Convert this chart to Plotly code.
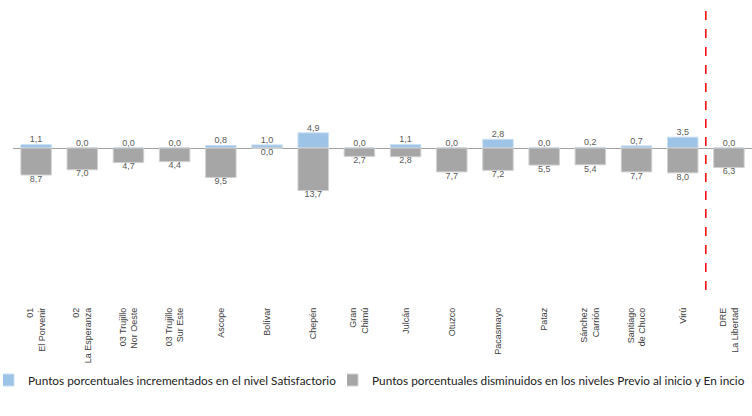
import plotly.graph_objects as go

categories = ["01<br>El Porvenir", "02<br>La Esperanza", "03 Trujillo<br>Nor Oeste",
              "03 Trujillo<br>Sur Este", "Ascope", "Bolívar", "Chepén", "Gran<br>Chimú",
              "Julcán", "Otuzco", "Pacasmayo", "Pataz", "Sánchez<br>Carrión",
              "Santiago<br>de Chuco", "Virú", "DRE<br>La Libertad"]
increased = [1.1, 0.0, 0.0, 0.0, 0.8, 1.0, 4.9, 0.0, 1.1, 0.0, 2.8, 0.0, 0.2, 0.7, 3.5, 0.0]
decreased = [8.7, 7.0, 4.7, 4.4, 9.5, 0.0, 13.7, 2.7, 2.8, 7.7, 7.2, 5.5, 5.4, 7.7, 8.0, 6.3]

name_inc = "Puntos porcentuales incrementados en el nivel Satisfactorio"
name_dec = "Puntos porcentuales disminuidos en los niveles Previo al inicio y En incio"

blue = "#9DC3E6"
gray = "#A6A6A6"
label_color = "#595959"
neg_dec = [-v for v in decreased]

fig = go.Figure()
fig.add_trace(go.Bar(x=categories, y=increased, name=name_inc, legend="legend",
                     marker=dict(color=blue, line=dict(color="#C9DEF2", width=1))))
fig.add_trace(go.Bar(x=categories, y=neg_dec, name=name_dec, legend="legend2",
                     marker=dict(color=gray, line=dict(color="#D0D0D0", width=1))))
fig.add_trace(go.Scatter(x=categories, y=increased, mode="text",
                         text=[f"{v:.1f}".replace(".", ",") for v in increased],
                         textposition="top center", showlegend=False, hoverinfo="skip",
                         textfont=dict(family="Liberation Sans", size=9, color=label_color)))
fig.add_trace(go.Scatter(x=categories, y=neg_dec, mode="text",
                         text=[f"{v:.1f}".replace(".", ",") for v in decreased],
                         textposition="bottom center", showlegend=False, hoverinfo="skip",
                         textfont=dict(family="Liberation Sans", size=9, color=label_color)))

fig.add_shape(type="line", xref="x", yref="paper", x0=14.5, x1=14.5, y0=0.05, y1=0.995,
              line=dict(color="#FF0000", width=1.5, dash="dash"))

legend_font = dict(family="Lato", size=11.8, color="#222222")

fig.update_layout(
    width=752, height=416,
    margin=dict(l=13, r=0, t=5, b=111),
    barmode="overlay", bargap=0.34,
    plot_bgcolor="white", paper_bgcolor="white",
    xaxis=dict(showgrid=False, showline=False, ticks="", tickangle=-90, automargin=False,
               tickfont=dict(family="Liberation Sans", size=9, color="#404040"),
               range=[-0.5, 15.5]),
    yaxis=dict(showgrid=False, showticklabels=False, zeroline=True, automargin=False,
               zerolinecolor="#A0A0A0", zerolinewidth=1, range=[-50.6, 46.1]),
    legend=dict(orientation="h", x=-0.0135, xanchor="left", y=-0.25, yanchor="middle",
                font=legend_font, itemwidth=30, indentation=-15,
                bgcolor="rgba(0,0,0,0)"),
    legend2=dict(orientation="h", x=0.452, xanchor="left", y=-0.25, yanchor="middle",
                 font=legend_font, itemwidth=30, indentation=-15,
                 bgcolor="rgba(0,0,0,0)"),
    showlegend=True,
)

fig.write_html("out.html", config={"displayModeBar": False},
               post_script="document.body.style.margin='0';")
